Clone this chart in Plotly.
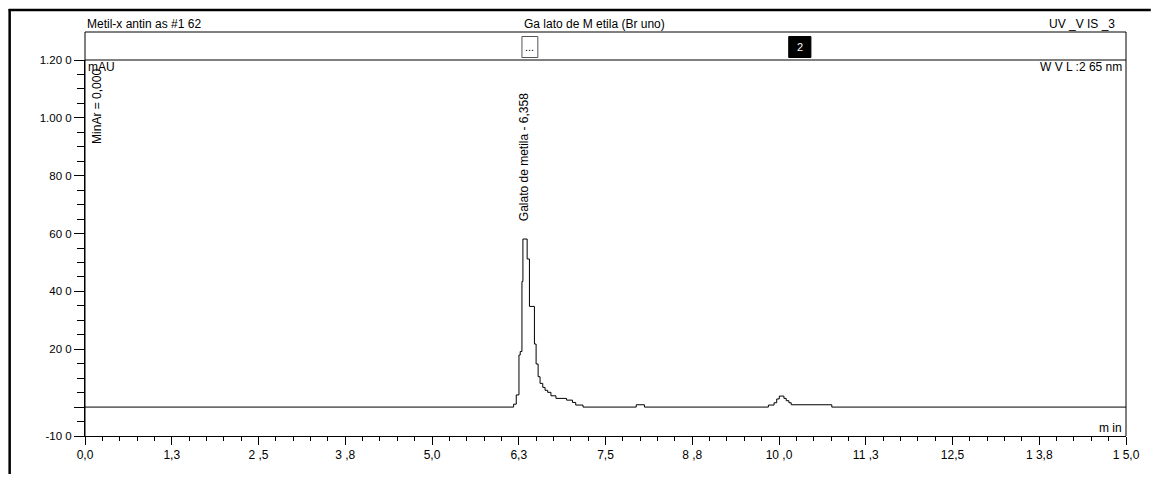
import plotly.graph_objects as go

# ---- data ----
time_min = [0.0, 6.176, 6.214, 6.253, 6.271, 6.296, 6.310, 6.371, 6.404, 6.476, 6.500,
            6.529, 6.557, 6.596, 6.629, 6.667, 6.714, 6.786, 6.939, 7.024, 7.071, 7.176,
            7.943, 8.061, 9.847, 9.929, 9.967, 10.004, 10.071, 10.104, 10.143, 10.176,
            10.761, 15.0]
signal_mau = [0, 10, 42, 180, 192, 434, 581, 512, 348, 218, 149,
              105, 82, 68, 58, 51, 39, 30, 24, 16, 7, 0,
              8, 0, 7, 15, 28, 38, 30, 22, 15, 8,
              0, 0]

x_tickvals = [0, 1.25, 2.5, 3.75, 5.0, 6.25, 7.5, 8.75, 10.0, 11.25, 12.5, 13.75, 15.0]
x_ticktext = ["0,0", "1,3", "2 ,5", "3 ,8", "5,0", "6,3", "7,5", "8 ,8", "10 ,0", "11 ,3", "12,5", "1 3,8", "1 5,0"]
y_tickvals = [-100, 0, 200, 400, 600, 800, 1000, 1200]
y_ticktext = ["-10 0", "", "20 0", "40 0", "60 0", "80 0", "1.00 0", "1.20 0"]

title_left = "Metil-x antin as #1 62"
title_mid = "Ga lato de M etila (Br uno)"
title_right = "UV _V IS _3"
peak_label = "Galato de metila - 6,358"
peak_markers = [("...", 6.296, 6.525, "white", "black"), ("2", 10.14, 10.46, "black", "white")]

FONT = "Liberation Sans, Arial, sans-serif"
OFF = 8  # page body margin
W, H = 1160 - 2 * OFF, 482 - 2 * OFF
L, T = 85 - OFF, 60 - OFF
R = W - (1135 - OFF)
B = H - (436 - OFF)
PW, PH = W - L - R, H - T - B


def px(xp):
    """page x pixel -> paper coordinate"""
    return (xp - OFF - L) / PW


def py(yp):
    """page y pixel -> paper coordinate"""
    return (H - B - (yp - OFF)) / PH


fig = go.Figure()
fig.add_trace(go.Scatter(x=time_min, y=signal_mau, mode="lines", line_shape="hv",
                         line=dict(color="black", width=1), hoverinfo="skip",
                         showlegend=False))

fig.update_layout(
    width=W, height=H,
    margin=dict(l=L, r=R, t=T, b=B, pad=0),
    paper_bgcolor="white", plot_bgcolor="white",
    font=dict(family=FONT, size=12, color="black"),
    showlegend=False,
    xaxis=dict(range=[0, 15], tickvals=x_tickvals, ticktext=x_ticktext,
               ticks="outside", ticklen=8, tickwidth=1, tickcolor="black",
               showgrid=False, zeroline=False, showline=True, linecolor="black",
               linewidth=1, tickfont=dict(size=12, color="black"),
               minor=dict(dtick=0.25, tick0=0, ticks="outside", ticklen=4,
                          tickcolor="black", showgrid=False)),
    yaxis=dict(range=[-100, 1200], tickvals=y_tickvals, ticktext=y_ticktext,
               ticks="outside", ticklen=10, tickwidth=1, tickcolor="black",
               showgrid=False, zeroline=False, showline=True, linecolor="black",
               linewidth=1, tickfont=dict(size=11.5, color="black"),
               minor=dict(dtick=50, tick0=0, ticks="outside", ticklen=7,
                          tickcolor="black", showgrid=False)),
)

shapes = []
# outer page frame (thick)
shapes.append(dict(type="line", xref="paper", yref="paper", x0=px(8), x1=px(1160),
                   y0=py(10), y1=py(10), line=dict(color="black", width=2.5)))
shapes.append(dict(type="line", xref="paper", yref="paper", x0=px(9), x1=px(9),
                   y0=py(9), y1=py(482), line=dict(color="black", width=2.5)))
# plot frame above and right
for (x0, y0, x1, y1) in [(85, 32, 1135, 32), (85, 60, 1135, 60), (85, 32, 85, 436),
                         (1135, 32, 1135, 436)]:
    shapes.append(dict(type="line", xref="paper", yref="paper", x0=px(x0), x1=px(x1),
                       y0=py(y0), y1=py(y1), line=dict(color="black", width=1)))
# peak marker boxes
for (txt, t0, t1, fill, fcol) in peak_markers:
    shapes.append(dict(type="rect", xref="x", yref="paper", x0=t0, x1=t1,
                       y0=py(57.5), y1=py(36.5), fillcolor=fill,
                       line=dict(color="#555555" if fill == "white" else "black", width=1)))
fig.update_layout(shapes=shapes)

ann = []
ann.append(dict(text=title_left, xref="paper", yref="paper", x=px(85), y=py(24),
                xanchor="left", yanchor="middle", showarrow=False))
ann.append(dict(text=title_mid, xref="paper", yref="paper", x=px(599), y=py(24),
                xanchor="center", yanchor="middle", showarrow=False))
ann.append(dict(text=title_right, xref="paper", yref="paper", x=px(1126), y=py(24),
                xanchor="right", yanchor="middle", showarrow=False))
for (txt, t0, t1, fill, fcol) in peak_markers:
    ann.append(dict(text=txt, xref="x", yref="paper", x=(t0 + t1) / 2, y=py(47),
                    xanchor="center", yanchor="middle", showarrow=False,
                    font=dict(color=fcol, size=11)))
ann.append(dict(text="mAU", xref="paper", yref="paper", x=px(86), y=py(67),
                xanchor="left", yanchor="middle", showarrow=False))
ann.append(dict(text="MinAr = 0,000", xref="paper", yref="paper", x=px(97), y=py(106),
                xanchor="center", yanchor="middle", showarrow=False, textangle=-90))
ann.append(dict(text="W V L :2 65 nm", xref="paper", yref="paper", x=px(1133), y=py(67),
                xanchor="right", yanchor="middle", showarrow=False))
ann.append(dict(text=peak_label, xref="paper", yref="paper", x=px(528), y=py(157),
                xanchor="center", yanchor="middle", showarrow=False, textangle=-90))
ann.append(dict(text="m in", xref="paper", yref="paper", x=px(1133), y=py(428),
                xanchor="right", yanchor="middle", showarrow=False))
fig.update_layout(annotations=ann)

fig.write_html("out.html")
